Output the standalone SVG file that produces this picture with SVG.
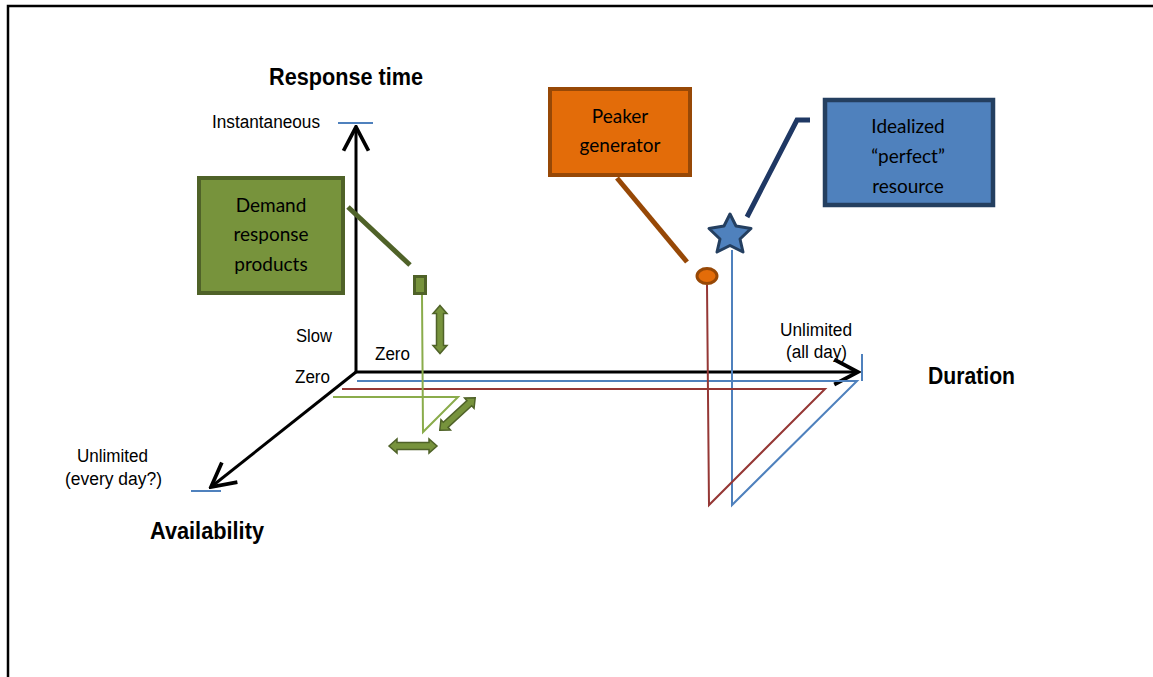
<svg xmlns="http://www.w3.org/2000/svg" width="1153" height="677" viewBox="0 0 1153 677">
<style>
.lbl{font-family:"Liberation Sans",Arial,sans-serif;font-size:18px;fill:#000}
.ttl{font-family:"Liberation Sans",Arial,sans-serif;font-size:23.5px;font-weight:bold;fill:#000}
.box{font-family:Lato,"Noto Sans",sans-serif;font-size:19px;fill:#000;text-anchor:middle}
.axis{stroke:#000;stroke-width:3;fill:none}
.thin{stroke-width:2;fill:none}
.dbl{fill:#77933C;stroke:#4F6228;stroke-width:1.5}
</style>
<defs>
<marker id="arr" markerUnits="userSpaceOnUse" markerWidth="30" markerHeight="30" viewBox="-22 -12 24 24" refX="0" refY="0" orient="auto">
<path d="M-19,-10 L0,0 L-19,10" fill="none" stroke="#000" stroke-width="3"/>
</marker>
<path id="dblarrow" d="M-24,0 L-16,-7 L-16,-3.5 L16,-3.5 L16,-7 L24,0 L16,7 L16,3.5 L-16,3.5 L-16,7 Z"/>
</defs>
<path d="M8,677 L8,6 L1153,6" fill="none" stroke="#000" stroke-width="2.5"/>
<g id="axes">
<line class="axis" x1="356" y1="372" x2="356" y2="127" marker-end="url(#arr)"/>
<line class="axis" x1="356" y1="372" x2="858" y2="372" marker-end="url(#arr)"/>
<line class="axis" x1="356" y1="372" x2="211" y2="487" marker-end="url(#arr)"/>
<line x1="338" y1="123" x2="373" y2="123" stroke="#4F81BD" stroke-width="2"/>
<line x1="862" y1="354" x2="862" y2="381" stroke="#4F81BD" stroke-width="2"/>
<line x1="191" y1="491" x2="221" y2="491" stroke="#4F81BD" stroke-width="2"/>
</g>
<g id="labels">
<text class="ttl" x="269" y="85" textLength="154" lengthAdjust="spacingAndGlyphs">Response time</text>
<text class="lbl" x="212" y="128" textLength="108" lengthAdjust="spacingAndGlyphs">Instantaneous</text>
<text class="lbl" x="296" y="342" textLength="36" lengthAdjust="spacingAndGlyphs">Slow</text>
<text class="lbl" x="375" y="360" textLength="35" lengthAdjust="spacingAndGlyphs">Zero</text>
<text class="lbl" x="295" y="383" textLength="35" lengthAdjust="spacingAndGlyphs">Zero</text>
<text class="lbl" x="780" y="336" textLength="72" lengthAdjust="spacingAndGlyphs">Unlimited</text>
<text class="lbl" x="786" y="358" textLength="61" lengthAdjust="spacingAndGlyphs">(all day)</text>
<text class="ttl" x="928" y="384" textLength="87" lengthAdjust="spacingAndGlyphs">Duration</text>
<text class="lbl" x="77" y="462" textLength="71" lengthAdjust="spacingAndGlyphs">Unlimited</text>
<text class="lbl" x="65" y="485" textLength="97" lengthAdjust="spacingAndGlyphs">(every day?)</text>
<text class="ttl" x="150" y="539" textLength="114" lengthAdjust="spacingAndGlyphs">Availability</text>
</g>
<g id="connectors">
<polyline class="thin" stroke="#4F81BD" points="357,381 857,381 732,505 732,250"/>
<polyline class="thin" stroke="#953735" points="342,389 825,389 709,505 707,285"/>
<polyline class="thin" stroke="#8AAC4B" points="333,397 458,397 423,432 422,295"/>
<line x1="348" y1="207" x2="410" y2="265" stroke="#4F6228" stroke-width="5"/>
<line x1="617" y1="178" x2="687" y2="262" stroke="#974806" stroke-width="5"/>
<polyline points="747,217 797,120 810,120" fill="none" stroke="#1F3864" stroke-width="5"/>
</g>
<g id="demand-response">
<rect x="199" y="178" width="144" height="115" fill="#77933C" stroke="#4F6228" stroke-width="4"/>
<text class="box" x="271" y="212">Demand</text>
<text class="box" x="271" y="241">response</text>
<text class="box" x="271" y="271">products</text>
<rect x="414.5" y="276.5" width="11" height="17" fill="#77933C" stroke="#4F6228" stroke-width="3"/>
</g>
<g id="peaker">
<rect x="550" y="89" width="140" height="86" fill="#E36C09" stroke="#974806" stroke-width="4"/>
<text class="box" x="620" y="123">Peaker</text>
<text class="box" x="620" y="152">generator</text>
<ellipse cx="707" cy="276" rx="10" ry="7.5" fill="#E36C09" stroke="#974806" stroke-width="3"/>
</g>
<g id="ideal">
<rect x="825" y="100" width="168" height="105" fill="#4F81BD" stroke="#243F60" stroke-width="4.5"/>
<text class="box" x="908" y="133">Idealized</text>
<text class="box" x="908" y="163">“perfect”</text>
<text class="box" x="908" y="193">resource</text>
<polygon points="730,214 736,226 751,228.5 740,239 743,252 730,245.5 717,252 720,239 709,228.5 724,226" fill="#4F81BD" stroke="#243F60" stroke-width="3" stroke-linejoin="round"/>
</g>
<g id="arrows">
<use href="#dblarrow" class="dbl" transform="translate(440,329.5) rotate(90)"/>
<use href="#dblarrow" class="dbl" transform="translate(413,446)"/>
<use href="#dblarrow" class="dbl" transform="translate(457.5,414) rotate(-42.4)"/>
</g>
</svg>
